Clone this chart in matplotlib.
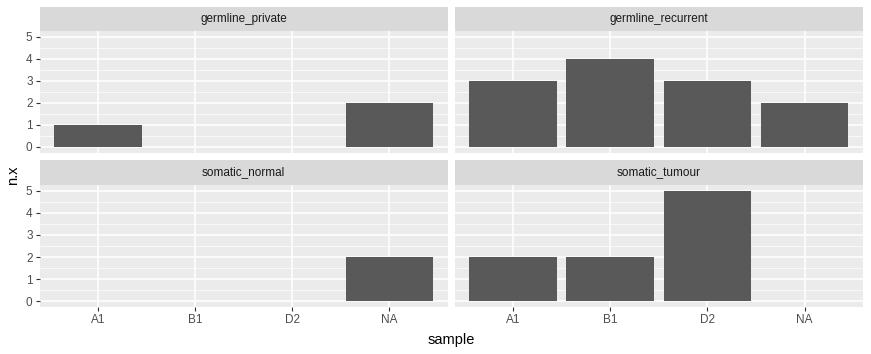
import matplotlib.pyplot as plt
import numpy as np

plt.rcParams['font.family'] = ['Liberation Sans', 'DejaVu Sans']

samples = ["A1", "B1", "D2", "NA"]
panels = ["germline_private", "germline_recurrent", "somatic_normal", "somatic_tumour"]
germline_private = [1, 0, 0, 2]
germline_recurrent = [3, 4, 3, 2]
somatic_normal = [0, 0, 0, 2]
somatic_tumour = [2, 2, 5, 0]
values = [germline_private, germline_recurrent, somatic_normal, somatic_tumour]

W, H = 871, 354
fig = plt.figure(figsize=(W / 100, H / 100), dpi=100)

def box(x0, y0, x1, y1):
    # pixel coords (top-left origin) -> figure fraction
    return [x0 / W, 1 - y1 / H, (x1 - x0) / W, (y1 - y0) / H]

cols = [(39.5, 447.5), (454.5, 863)]
rows = [(7, 31, 152.5), (160, 185, 307)]

xpos = np.arange(1, 5)
for i, name in enumerate(panels):
    r, c = divmod(i, 2)
    x0, x1 = cols[c]
    s0, s1, p1 = rows[r]

    st = fig.add_axes(box(x0, s0, x1, s1))
    st.set_facecolor("#D9D9D9")
    st.set_xticks([]); st.set_yticks([])
    for sp in st.spines.values():
        sp.set_visible(False)
    st.text(0.5, 0.5, name, ha="center", va="center", fontsize=8.5, color="#1A1A1A", transform=st.transAxes)

    ax = fig.add_axes(box(x0, s1, x1, p1))
    ax.set_facecolor("#EBEBEB")
    for sp in ax.spines.values():
        sp.set_visible(False)
    v = np.array(values[i])
    mask = v > 0
    ax.bar(xpos[mask], v[mask], width=0.9, color="#595959", zorder=3)
    ax.set_xlim(0.4, 4.6)
    ax.set_ylim(-0.25, 5.25)
    ax.set_xticks(xpos)
    ax.set_yticks(range(6))
    ax.set_yticks(np.arange(0.5, 5, 1), minor=True)
    ax.grid(True, which="major", color="white", linewidth=1.1, zorder=0)
    ax.grid(True, which="minor", axis="y", color="white", linewidth=0.5, zorder=0)
    ax.tick_params(which="minor", length=0)
    ax.tick_params(which="major", length=3, color="#333333", labelcolor="#4D4D4D", labelsize=8.5, pad=2)
    if r == 0:
        ax.tick_params(axis="x", length=0, labelbottom=False)
    else:
        ax.set_xticklabels(samples)
    if c == 1:
        ax.tick_params(axis="y", length=0, labelleft=False)

fig.text(451 / W, 1 - 340 / H, "sample", ha="center", va="center", fontsize=10.5)
fig.text(13 / W, 1 - 175 / H, "n.x", ha="center", va="center", rotation=90, fontsize=10.5)

fig.savefig("out.png", dpi=100)
